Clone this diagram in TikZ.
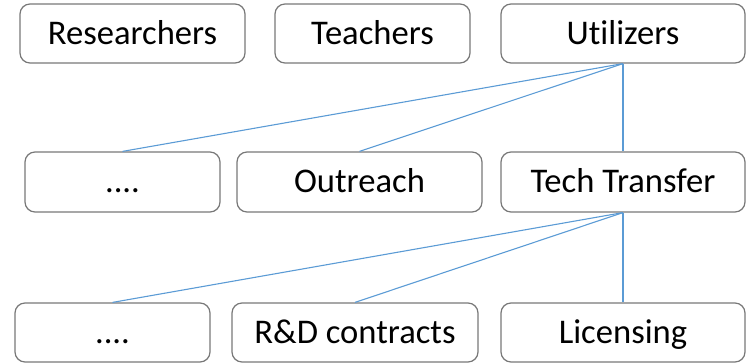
\documentclass[tikz,border=0pt]{standalone}
\usepackage{fontspec}
\setmainfont{Carlito}[Ligatures=NoCommon]
\definecolor{boxgray}{RGB}{120,120,120}
\definecolor{linkblue}{RGB}{91,155,213}
\tikzstyle{unit}=[rectangle,rounded corners=5pt,draw=boxgray,line width=0.6pt,fill=white,minimum height=29.5pt,inner sep=0pt,text height=12pt,text depth=1pt,font=\fontsize{17.3}{20}\selectfont]
\tikzstyle{link}=[draw=linkblue,line width=0.55pt]

\begin{document}
\begin{tikzpicture}[x=0.5pt,y=-0.5pt]
  \useasboundingbox (0,0) rectangle (746,363);
  % top row
  \node (res) [unit,minimum width=112.5pt] at (132.5,33.5) {Researchers};
  \node (tea) [unit,minimum width=97.5pt] at (372.5,33.5) {Teachers};
  \node (uti) [unit,minimum width=122pt] at (623,33.5) {Utilizers};
  % middle row
  \node (misc) [unit,minimum width=97.5pt,minimum height=30pt] at (122.5,182) {....};
  \node (out) [unit,minimum width=122.5pt,minimum height=30pt] at (359.5,182) {Outreach};
  \node (tt) [unit,minimum width=122pt,minimum height=30pt] at (623,182) {Tech Transfer};
  % bottom row
  \node (other) [unit,minimum width=97.5pt] at (112.5,332.5) {....};
  \node (rd) [unit,minimum width=123pt] at (355,332.5) {R\&D contracts};
  \node (lic) [unit,minimum width=122pt] at (623,332.5) {Licensing};
  \path[link]
  (uti.south) edge (misc.north)
  (uti.south) edge (out.north)
  (uti.south) edge (tt.north)
  (tt.south) edge (other.north)
  (tt.south) edge (rd.north)
  (tt.south) edge (lic.north);
\end{tikzpicture}
\end{document}
